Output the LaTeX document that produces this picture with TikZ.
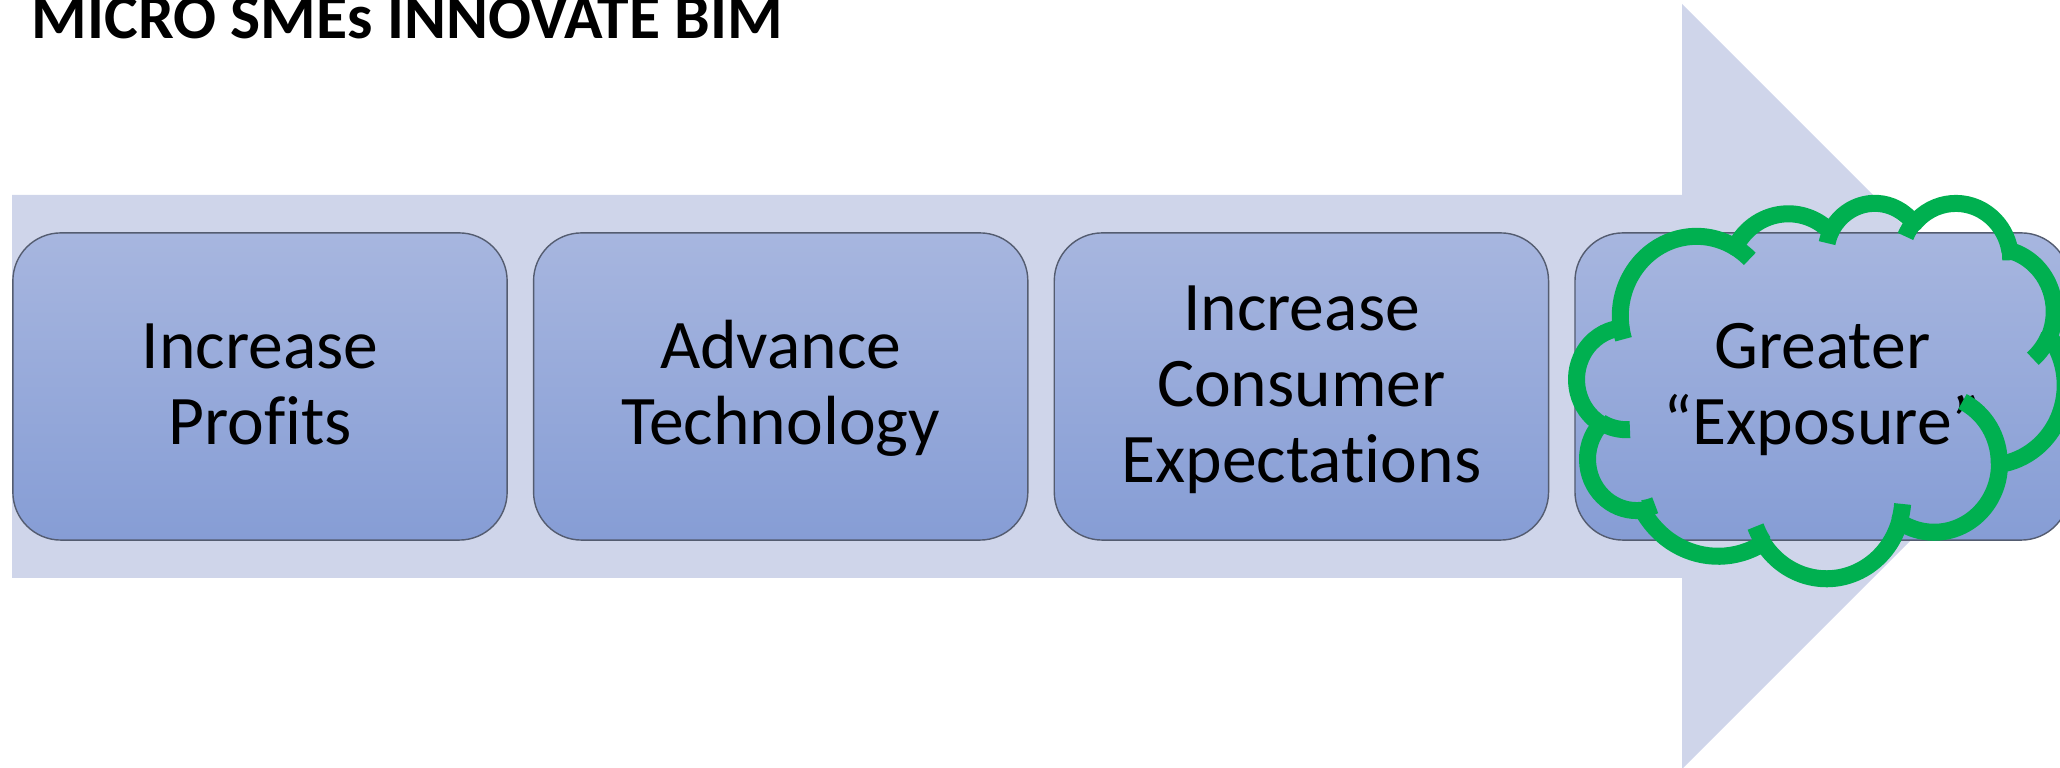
\documentclass[tikz,border=0pt]{standalone}
\usepackage{fontspec}
\setmainfont{Carlito}[Ligatures=NoCommon]
\usetikzlibrary{positioning}
\definecolor{arrowfill}{RGB}{207,213,234}
\definecolor{boxtop}{RGB}{167,182,223}
\definecolor{boxbottom}{RGB}{134,157,213}
\definecolor{boxline}{RGB}{84,92,112}
\definecolor{cloudgreen}{RGB}{0,176,80}
\newcommand\linestrut{\rule[-4.5pt]{0pt}{20.5pt}}
\newcommand\cloudarc[4]{arc[start angle={cang(#3,#1,#2)},
  delta angle={Mod(cang(#3+#4,#1,#2)-cang(#3,#1,#2),360)},
  x radius=#1, y radius=#2]}

\begin{document}
\begin{tikzpicture}[x=0.01cm, y=-0.01cm,
    declare function={cang(\a,\w,\h)=atan2(\w*sin(\a),\h*cos(\a));},
    stagebox/.style={draw=boxline, line width=0.4pt, rounded corners=0.48cm,
      top color=boxtop, bottom color=boxbottom,
      minimum width=4.94cm, minimum height=3.07cm, inner sep=0pt,
      align=center, font=\fontsize{19.8pt}{21.6pt}\selectfont},
    cloudline/.style={draw=cloudgreen, line width=0.17cm, line join=round}]
    \useasboundingbox (0,0) rectangle (2060,768);

    % Drawing arrow
    \fill [arrowfill] (12,195) -- (1682,195) -- (1682,4) -- (2064.5,386.5)
      -- (1682,769) -- (1682,578) -- (12,578) -- cycle;%

    % Drawing title
    \node (title) [anchor=base west, inner sep=0pt,
      font=\fontsize{18.1pt}{20pt}\selectfont\bfseries] at (31,39) {MICRO SMEs INNOVATE BIM};%

    % Drawing boxes
    \node [stagebox] (profits) at (260,386.5) {\linestrut Increase\\Profits\linestrut};%
    \node [stagebox, right=0.25cm of profits] (technology) {\linestrut Advance\\Technology\linestrut};%
    \node [stagebox, right=0.25cm of technology] (expectations) {\linestrut Increase\\Consumer\\Expectations\linestrut};%
    \node [stagebox, right=0.25cm of expectations] (exposure) {\linestrut Greater\\“Exposure”\linestrut};%

    % Drawing cloud round exposure
    \begin{scope}[xshift=15.76cm, yshift=-2.02cm, x=0.011296cm, y=-0.008681cm]
      \draw [cloudline] (39.00,143.70)
        \cloudarc{67.53}{91.90}{-190.4875}{123.7805}
        \cloudarc{53.33}{72.67}{-144.1024}{89.9452}
        \cloudarc{43.65}{59.45}{-145.8079}{99.7230}
        \cloudarc{48.57}{65.95}{-130.9861}{117.2417}
        \cloudarc{53.33}{72.73}{-78.7089}{109.0269}
        \cloudarc{67.75}{92.20}{-46.2673}{130.2690}
        \cloudarc{57.85}{78.67}{0.6250}{114.0333}
        \cloudarc{67.52}{92.15}{22.4516}{115.1726}
        \cloudarc{77.20}{105.43}{66.2426}{75.7110}
        \cloudarc{43.60}{59.18}{-274.9421}{146.7356}
        \cloudarc{43.45}{59.45}{-246.8285}{152.5189} -- cycle;%

      % Drawing cloud creases
      \draw [cloudline] (46.93,261.77) \cloudarc{43.45}{59.45}{86.7420}{26.4295}
        (69.28,348.99) \cloudarc{43.60}{59.18}{73.6105}{11.4475}
        (164.78,390.90) \cloudarc{67.52}{92.15}{137.6242}{14.0811}
        (288.27,347.51) \cloudarc{67.52}{92.15}{6.4533}{15.9984}
        (341.29,229.54) \cloudarc{57.85}{78.67}{-70.2924}{70.9174}
        (417.98,153.54) \cloudarc{53.33}{72.73}{30.3180}{27.7515}
        (383.24,54.26) \cloudarc{48.57}{65.95}{-13.7443}{14.8589}
        (290.78,39.52) \cloudarc{48.57}{65.95}{-149.1815}{18.1954}
        (221.41,47.20) \cloudarc{43.65}{59.45}{-163.4943}{17.6864}
        (140.00,51.92) \cloudarc{67.53}{91.90}{-66.7070}{12.3194}
        (41.27,157.89) \cloudarc{67.53}{91.90}{157.6544}{11.8582};%
    \end{scope}
\end{tikzpicture}
\end{document}
